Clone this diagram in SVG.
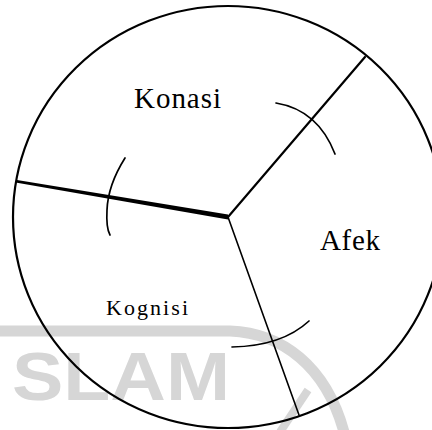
<svg xmlns="http://www.w3.org/2000/svg" width="432" height="430" viewBox="0 0 432 430">
<style>
.wm{fill:none;stroke:#d6d6d6;stroke-linecap:butt}
.wmt{fill:#d6d6d6;font-family:"Liberation Sans",Arial,sans-serif;font-weight:bold}
.ln{stroke:#000;fill:none;stroke-linecap:round}
.arc{stroke:#000;fill:none;stroke-width:1.7;stroke-linecap:round}
.lbl{font-family:"Liberation Serif","Times New Roman",serif;fill:#000}
</style>
<rect width="432" height="430" fill="#fff"/>
<g id="watermark">
<path class="wm" stroke-width="11" d="M0,331 L230,331 C282,333 326,366 344,432"/>
<path class="wm" stroke-width="8" d="M308,390 L280,432"/>
<text class="wmt" x="12" y="400" font-size="68" textLength="218" lengthAdjust="spacingAndGlyphs">SLAM</text>
</g>
<g id="circle">
<ellipse cx="228" cy="217" rx="215" ry="211" fill="none" stroke="#000" stroke-width="2.2"/>
</g>
<g id="connectors">
<polygon points="17,180 17,182.8 228,219.4 228,214.6" fill="#000"/>
<line class="ln" x1="228" y1="217" x2="365" y2="57" stroke-width="2.2"/>
<line class="ln" x1="228" y1="217" x2="299" y2="415" stroke-width="1.6"/>
<path class="arc" d="M276,103 Q318,110 335,154"/>
<path class="arc" d="M125,158 Q108,185 107,210 Q106,228 110,235"/>
<path class="arc" d="M232,347 Q282,346 309,321"/>
</g>
<g id="konasi"><text class="lbl" x="134" y="108" font-size="29" textLength="87">Konasi</text></g>
<g id="afek"><text class="lbl" x="320" y="250" font-size="29" textLength="60">Afek</text></g>
<g id="kognisi"><text class="lbl" x="106" y="315" font-size="22" textLength="82">Kognisi</text></g>
</svg>
